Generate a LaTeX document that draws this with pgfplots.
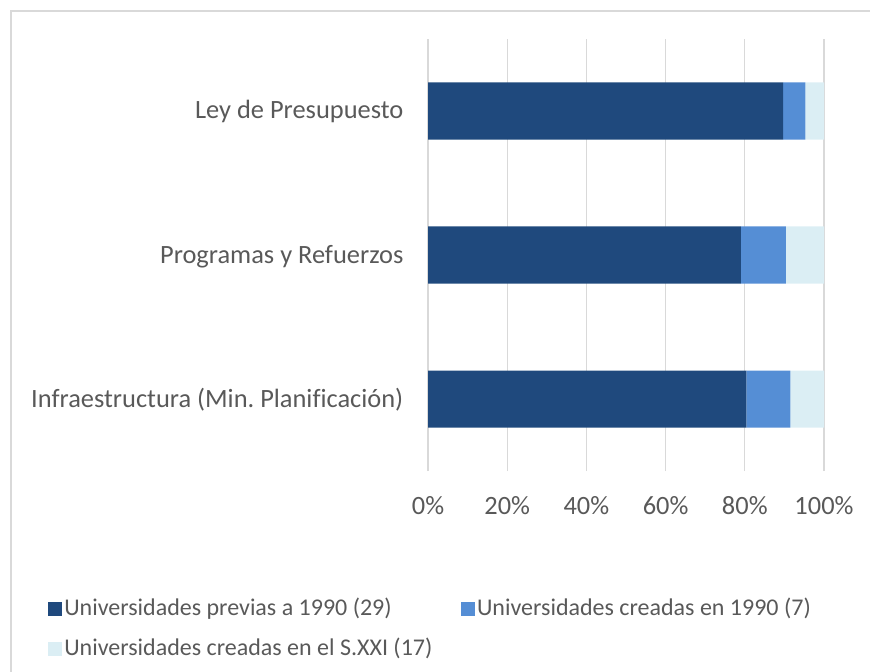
\documentclass[border=0pt]{standalone}
\usepackage{pgfplots}
\pgfplotsset{compat=1.18}
\usepackage{fontspec}
\setmainfont{Carlito}[Ligatures=NoCommon]
\frenchspacing
\definecolor{c1}{HTML}{1F497D}
\definecolor{c2}{HTML}{558ED5}
\definecolor{c3}{HTML}{DBEEF4}
\definecolor{txt}{HTML}{595959}
\definecolor{gridc}{HTML}{D9D9D9}
\begin{document}
\begin{tikzpicture}
\useasboundingbox (0,0) rectangle (652.5pt,503.25pt);
\draw[gridc, line width=1.1pt] (8.25pt,-20pt) -- (8.25pt,495pt) -- (700pt,495pt);
\begin{axis}[
  at={(321pt,150pt)}, anchor=south west,
  scale only axis, width=297pt, height=324pt,
  xbar stacked, bar width=42.75pt,
  xmin=0, xmax=100, ymin=-0.5, ymax=2.5,
  axis line style={draw=none},
  major tick length=0pt,
  xtick={0,20,40,60,80,100},
  xticklabels={0\%,20\%,40\%,60\%,80\%,100\%},
  ytick={0,1,2},
  yticklabels={Infraestructura (Min. Planificación),Programas y Refuerzos,Ley de Presupuesto},
  xmajorgrids, ymajorgrids=false,
  major grid style={gridc, line width=1pt},
  tick label style={font=\fontsize{19.8pt}{23.8pt}\selectfont, text=txt},
  xticklabel style={anchor=base, yshift=-32.5pt},
  yticklabel style={anchor=base east, xshift=-15pt, yshift=-6pt},
  clip=false,
  legend columns=2,
  legend cell align=left,
  legend style={draw=none, fill=none, at={(-0.9596,-0.287)}, anchor=north west,
    font=\fontsize{18pt}{21.6pt}\selectfont, text=txt,
    inner sep=0pt, row sep=9pt,
    nodes={inner sep=1.5pt, text height=13.5pt, text depth=4.5pt},
    /tikz/every even column/.append style={column sep=20pt}},
  legend image code/.code={\fill[#1] (0pt,-5.25pt) rectangle (10.5pt,5.25pt);},
]
\addplot[fill=c1, draw=none] coordinates {(80.4,0) (79.0,1) (89.7,2)};
\addplot[fill=c2, draw=none] coordinates {(11.1,0) (11.4,1) (5.6,2)};
\addplot[fill=c3, draw=none] coordinates {(8.5,0) (9.6,1) (4.7,2)};
\legend{Universidades previas a 1990 (29),Universidades creadas en 1990 (7),Universidades creadas en el S.XXI (17)}
\end{axis}
\end{tikzpicture}
\end{document}
